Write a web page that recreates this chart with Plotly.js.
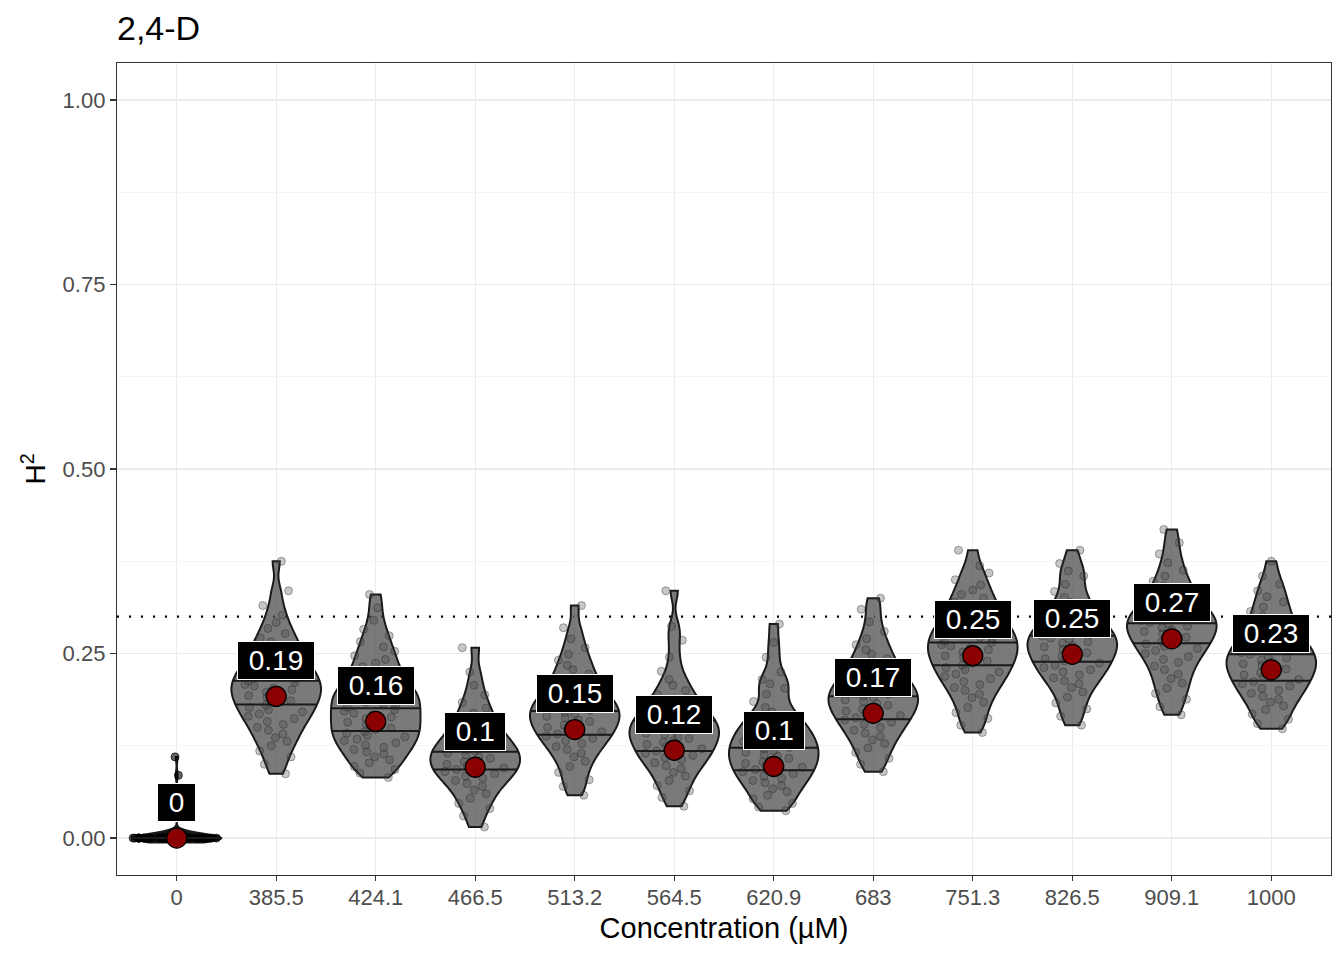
<!DOCTYPE html>
<html>
<head>
<meta charset="utf-8">
<script src="https://cdn.plot.ly/plotly-3.0.1.min.js"></script>
<style>html,body{margin:0;padding:0;background:#fff;}#chart{width:1344px;height:960px;}</style>
</head>
<body>
<div id="chart"></div>
<script>
// ---- data ----
const concentrations = ["0","385.5","424.1","466.5","513.2","564.5","620.9","683","751.3","826.5","909.1","1000"];

const h2_0     = [0,0,0,0,0,0,0,0,0,0,0,0,0,0,0,0,0,0,0,0,0,0,0,0,0,0,0,0,0,0,0,0,0,0,0,0,0,0,0,0,0,0,0,0,0,0,0,0,0.085,0.11];
const h2_385_5 = [0.087,0.100,0.110,0.118,0.125,0.131,0.136,0.141,0.146,0.150,0.154,0.158,0.162,0.165,0.168,0.171,0.174,0.177,0.180,0.183,0.186,0.188,0.191,0.193,0.196,0.198,0.201,0.203,0.206,0.208,0.211,0.213,0.216,0.218,0.221,0.224,0.227,0.230,0.233,0.236,0.240,0.244,0.248,0.252,0.256,0.261,0.266,0.271,0.277,0.284,0.292,0.302,0.315,0.335,0.375];
const h2_424_1 = [0.082,0.088,0.093,0.097,0.102,0.106,0.110,0.114,0.117,0.120,0.123,0.126,0.129,0.132,0.134,0.137,0.139,0.142,0.144,0.147,0.149,0.152,0.154,0.157,0.159,0.162,0.164,0.167,0.169,0.172,0.174,0.177,0.179,0.182,0.184,0.187,0.189,0.192,0.194,0.197,0.199,0.202,0.205,0.208,0.211,0.215,0.219,0.223,0.227,0.232,0.237,0.242,0.247,0.253,0.259,0.266,0.274,0.283,0.295,0.312,0.330];
const h2_466_5 = [0.015,0.030,0.040,0.047,0.054,0.060,0.065,0.070,0.074,0.078,0.081,0.084,0.087,0.090,0.093,0.095,0.098,0.100,0.103,0.105,0.108,0.110,0.113,0.115,0.118,0.120,0.123,0.126,0.129,0.132,0.135,0.139,0.143,0.147,0.152,0.157,0.163,0.169,0.176,0.184,0.194,0.207,0.225,0.258];
const h2_513_2 = [0.058,0.070,0.079,0.089,0.097,0.104,0.110,0.115,0.120,0.124,0.128,0.132,0.135,0.138,0.141,0.144,0.147,0.150,0.153,0.155,0.158,0.160,0.163,0.165,0.168,0.170,0.173,0.175,0.178,0.180,0.183,0.186,0.189,0.192,0.195,0.199,0.203,0.207,0.212,0.217,0.222,0.228,0.234,0.241,0.249,0.258,0.270,0.285,0.315];
const h2_564_5 = [0.043,0.055,0.064,0.071,0.078,0.084,0.089,0.094,0.098,0.102,0.106,0.109,0.112,0.115,0.118,0.121,0.124,0.127,0.130,0.132,0.135,0.137,0.140,0.142,0.145,0.147,0.150,0.152,0.155,0.157,0.160,0.163,0.166,0.169,0.172,0.176,0.180,0.184,0.189,0.194,0.200,0.207,0.215,0.226,0.245,0.268,0.287,0.335];
const h2_620_9 = [0.037,0.042,0.047,0.053,0.058,0.063,0.067,0.071,0.075,0.078,0.081,0.084,0.087,0.090,0.093,0.096,0.098,0.101,0.103,0.106,0.108,0.111,0.113,0.116,0.118,0.121,0.123,0.126,0.128,0.131,0.133,0.136,0.139,0.142,0.145,0.148,0.151,0.154,0.158,0.162,0.166,0.171,0.177,0.185,0.195,0.203,0.209,0.215,0.225,0.245,0.265,0.290];
const h2_683   = [0.090,0.100,0.108,0.116,0.122,0.128,0.133,0.138,0.142,0.146,0.150,0.154,0.157,0.160,0.163,0.166,0.169,0.172,0.175,0.177,0.180,0.182,0.185,0.187,0.190,0.192,0.195,0.197,0.200,0.202,0.205,0.208,0.211,0.214,0.217,0.221,0.225,0.229,0.233,0.238,0.243,0.249,0.255,0.262,0.270,0.280,0.293,0.310,0.325];
const h2_751_3 = [0.143,0.153,0.162,0.170,0.177,0.184,0.190,0.195,0.200,0.204,0.208,0.212,0.216,0.219,0.222,0.225,0.228,0.231,0.234,0.237,0.240,0.242,0.245,0.247,0.250,0.252,0.255,0.257,0.260,0.262,0.265,0.267,0.270,0.272,0.275,0.277,0.280,0.283,0.286,0.289,0.292,0.295,0.299,0.303,0.307,0.311,0.315,0.320,0.325,0.330,0.336,0.343,0.350,0.359,0.369,0.390];
const h2_826_5 = [0.153,0.165,0.175,0.183,0.191,0.198,0.204,0.209,0.213,0.217,0.221,0.225,0.228,0.231,0.234,0.237,0.240,0.243,0.246,0.249,0.251,0.254,0.256,0.259,0.261,0.264,0.266,0.269,0.271,0.274,0.276,0.279,0.282,0.285,0.288,0.291,0.295,0.299,0.303,0.308,0.313,0.319,0.326,0.334,0.344,0.355,0.362,0.372,0.390];
const h2_909_1 = [0.167,0.178,0.188,0.196,0.203,0.210,0.216,0.222,0.228,0.233,0.238,0.242,0.246,0.250,0.254,0.257,0.260,0.263,0.266,0.269,0.272,0.275,0.277,0.280,0.282,0.285,0.287,0.290,0.292,0.295,0.297,0.300,0.302,0.305,0.308,0.311,0.314,0.318,0.322,0.326,0.331,0.336,0.342,0.348,0.355,0.363,0.373,0.385,0.400,0.418];
const h2_1000  = [0.148,0.155,0.161,0.168,0.174,0.179,0.184,0.188,0.192,0.196,0.200,0.203,0.206,0.209,0.212,0.215,0.218,0.221,0.224,0.226,0.229,0.231,0.234,0.236,0.239,0.241,0.244,0.246,0.249,0.251,0.254,0.257,0.260,0.263,0.266,0.269,0.273,0.277,0.281,0.286,0.291,0.296,0.301,0.307,0.313,0.320,0.327,0.335,0.344,0.355,0.375];

const meanH2    = [0.0, 0.192, 0.158, 0.096, 0.147, 0.119, 0.097, 0.169, 0.247, 0.249, 0.270, 0.228];
const lowerLine = [0.0, 0.181, 0.145, 0.093, 0.140, 0.118, 0.092, 0.161, 0.234, 0.239, 0.264, 0.213];
const upperLine = [0.0, 0.213, 0.176, 0.117, 0.172, 0.159, 0.1225, 0.192, 0.265, 0.274, 0.291, 0.249];
const thresholdH2 = 0.3;

const groups = [h2_0,h2_385_5,h2_424_1,h2_466_5,h2_513_2,h2_564_5,h2_620_9,h2_683,h2_751_3,h2_826_5,h2_909_1,h2_1000];
const bandwidths = [0.006,0.013,0.013,0.013,0.013,0.013,0.013,0.013,0.013,0.013,0.013,0.013];

// ---- build ----
const FONT = "Liberation Sans, Arial, Helvetica, sans-serif";
const VW = 0.9;
const traces = [];

function kde(vals, bw, y){
  let s = 0;
  for (const v of vals){ const z=(y-v)/bw; s += Math.exp(-0.5*z*z); }
  return s;
}

groups.forEach((vals, i) => {
  const isZero = (i === 0);
  const lo = Math.min(...vals), hi = Math.max(...vals);
  const tr = {
    type: 'violin',
    x: vals.map(() => i),
    y: vals,
    bandwidth: bandwidths[i],
    spanmode: 'hard',
    scalemode: 'width',
    width: VW,
    points: 'all',
    pointpos: 0,
    jitter: isZero ? 1 : 0.75,
    marker: isZero
      ? {size: 8, color: 'rgba(0,0,0,0.6)', line: {color: 'rgba(0,0,0,0.7)', width: 1}}
      : {size: 8, color: 'rgba(70,70,70,0.30)', line: {color: 'rgba(40,40,40,0.40)', width: 1}},
    fillcolor: isZero ? 'rgba(0,0,0,0.92)' : 'rgba(75,75,75,0.74)',
    line: {color: '#1a1a1a', width: 2},
    box: {visible: false},
    meanline: {visible: false},
    showlegend: false,
    hoverinfo: 'skip'
  };
  if (isZero) { tr.spanmode = 'manual'; tr.span = [lo - bandwidths[i], hi]; }
  traces.push(tr);
});

// quantile lines, width from KDE of each group's values
groups.forEach((vals, i) => {
  const bw = bandwidths[i];
  const lo = Math.min(...vals), hi = Math.max(...vals);
  let mx = 0;
  const n = 400;
  for (let k=0;k<=n;k++){ const y = lo + (hi-lo)*k/n; mx = Math.max(mx, kde(vals,bw,y)); }
  [lowerLine[i], upperLine[i]].forEach(q => {
    const hw = (kde(vals,bw,q)/mx) * VW/2;
    traces.push({
      type: 'scatter', mode: 'lines',
      x: [i-hw, i+hw], y: [q, q],
      line: {color: '#1a1a1a', width: 2},
      showlegend: false, hoverinfo: 'skip'
    });
  });
});

// mean points
traces.push({
  type: 'scatter', mode: 'markers',
  x: concentrations.map((c,i)=>i), y: meanH2,
  marker: {size: 20, color: '#8B0000', line: {color: '#000000', width: 1.3}},
  showlegend: false, hoverinfo: 'skip'
});

const annotations = meanH2.map((m,i) => ({
  x: i, y: m, xref: 'x', yref: 'y',
  text: '\u00a0' + String(Math.round(m*100)/100) + '\u00a0',
  showarrow: false, yshift: 36,
  bgcolor: '#000000', bordercolor: '#ffffff', borderwidth: 1, borderpad: 3,
  font: {family: FONT, size: 28, color: '#ffffff'}
}));

const layout = {
  width: 1344, height: 960,
  paper_bgcolor: '#ffffff', plot_bgcolor: '#ffffff',
  margin: {l: 117, r: 13, t: 63, b: 85},
  font: {family: FONT},
  title: {text: '2,4-D', x: 117/1344, xref: 'container', xanchor: 'left', y: 1-28/960, yref: 'container', yanchor: 'middle',
          font: {family: FONT, size: 34, color: '#000000'}},
  violinmode: 'overlay',
  xaxis: {
    range: [-0.6, 11.6],
    tickmode: 'array',
    tickvals: concentrations.map((c,i)=>i),
    ticktext: concentrations,
    showgrid: true, gridcolor: '#ebebeb', gridwidth: 1.4,
    zeroline: false,
    showline: true, linecolor: '#333333', linewidth: 1.2, mirror: true,
    ticks: 'outside', ticklen: 5, tickcolor: '#333333', tickwidth: 1.2,
    ticklabelstandoff: -3,
    tickfont: {family: FONT, size: 22, color: '#4d4d4d'},
    automargin: false,
    title: {text: 'Concentration (µM)', font: {family: FONT, size: 29, color: '#000000'}, standoff: 9}
  },
  yaxis: {
    range: [-0.05, 1.05],
    tickmode: 'array',
    tickvals: [0, 0.25, 0.5, 0.75, 1.0],
    ticktext: ['0.00','0.25','0.50','0.75','1.00'],
    showgrid: true, gridcolor: '#ebebeb', gridwidth: 1.4,
    minor: {tickmode: 'array', tickvals: [0.125, 0.375, 0.625, 0.875], showgrid: true, gridcolor: '#f3f3f3', gridwidth: 0.8, ticks: ''},
    zeroline: false,
    showline: true, linecolor: '#333333', linewidth: 1.2, mirror: true,
    ticks: 'outside', ticklen: 6, tickcolor: '#333333', tickwidth: 1.2,
    tickfont: {family: FONT, size: 22, color: '#4d4d4d'},
    automargin: false,
    title: {text: 'H<sup>2</sup>', font: {family: FONT, size: 28, color: '#000000'}, standoff: 8}
  },
  shapes: [{
    type: 'line', xref: 'paper', x0: 0, x1: 1, yref: 'y', y0: thresholdH2, y1: thresholdH2,
    line: {color: '#000000', width: 2.2, dash: '2px,10px'}, layer: 'below'
  }],
  annotations: annotations
};

Plotly.newPlot('chart', traces, layout, {displayModeBar: false, staticPlot: true});
</script>
</body>
</html>
